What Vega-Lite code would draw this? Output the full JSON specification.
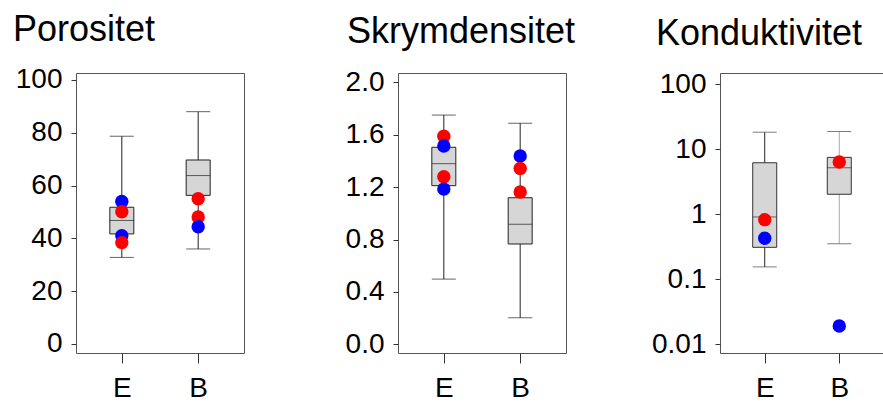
{
  "$schema": "https://vega.github.io/schema/vega-lite/v6.json",
  "padding": {"left": 12, "top": 11, "right": 0, "bottom": 0},
  "background": "white",
  "bounds": "flush",
  "spacing": 154,
  "config": {
    "font": "Liberation Sans",
    "view": {"stroke": "#555", "strokeWidth": 1},
    "title": {"fontSize": 36, "fontWeight": "normal", "font": "Liberation Sans", "color": "#000", "anchor": "start", "frame": "group", "offset": 17},
    "axis": {"labelFont": "Liberation Sans", "labelFontSize": 28, "labelColor": "#000", "tickColor": "#333", "domain": false, "grid": false, "title": null, "labelFlush": false, "labelOverlap": false},
    "axisX": {"tickSize": 10, "labelPadding": 11, "labelAngle": 0},
    "axisY": {"labelPadding": 9}
  },
  "datasets": {
    "box1": [
      {"g": "E", "lo": 32.8, "q1": 41.7, "med": 46.8, "q3": 51.8, "hi": 78.7},
      {"g": "B", "lo": 36.0, "q1": 56.3, "med": 63.8, "q3": 69.7, "hi": 88.0}
    ],
    "pts1": [
      {"g": "E", "v": 54.0, "c": "blue"},
      {"g": "E", "v": 50.1, "c": "red"},
      {"g": "E", "v": 41.0, "c": "blue"},
      {"g": "E", "v": 38.4, "c": "red"},
      {"g": "B", "v": 55.0, "c": "red"},
      {"g": "B", "v": 48.1, "c": "red"},
      {"g": "B", "v": 44.4, "c": "blue"}
    ],
    "box2": [
      {"g": "E", "lo": 0.498, "q1": 1.211, "med": 1.379, "q3": 1.504, "hi": 1.750},
      {"g": "B", "lo": 0.203, "q1": 0.766, "med": 0.916, "q3": 1.119, "hi": 1.687}
    ],
    "pts2": [
      {"g": "E", "v": 1.588, "c": "red"},
      {"g": "E", "v": 1.514, "c": "blue"},
      {"g": "E", "v": 1.279, "c": "red"},
      {"g": "E", "v": 1.185, "c": "blue"},
      {"g": "B", "v": 1.437, "c": "blue"},
      {"g": "B", "v": 1.343, "c": "red"},
      {"g": "B", "v": 1.163, "c": "red"}
    ],
    "box3": [
      {"g": "E", "lo": 0.155, "q1": 0.31, "med": 0.91, "q3": 6.2, "hi": 18.3},
      {"g": "B", "lo": 0.353, "q1": 2.03, "med": 5.2, "q3": 7.5, "hi": 18.7}
    ],
    "pts3": [
      {"g": "E", "v": 0.826, "c": "red"},
      {"g": "E", "v": 0.427, "c": "blue"},
      {"g": "B", "v": 6.38, "c": "red"},
      {"g": "B", "v": 0.0191, "c": "blue"}
    ]
  },
  "hconcat": [
    {
      "width": 168, "height": 280,
      "title": {"text": "Porositet", "dx": -63},
      "encoding": {
        "x": {"field": "g", "type": "nominal", "sort": ["E", "B"], "scale": {"type": "point", "padding": 0.6}}
      },
      "layer": [
        {"data": {"name": "box1"}, "mark": {"type": "rule", "color": "#222", "strokeWidth": 1},
         "encoding": {"y": {"field": "lo", "type": "quantitative", "scale": {"domain": [-3.41, 102.65], "nice": false, "zero": false},
           "axis": {"values": [0, 10, 20, 30, 40, 50, 60, 70, 80, 90, 100], "labelExpr": "datum.value % 20 === 0 ? datum.label : ''", "tickSize": {"condition": {"test": "datum.value % 20 === 0", "value": 5}, "value": 3}}},
           "y2": {"field": "hi"}}},
        {"data": {"name": "box1"}, "mark": {"type": "bar", "size": 24, "fill": "#d6d6d6", "stroke": "#222", "strokeWidth": 1},
         "encoding": {"y": {"field": "q1", "type": "quantitative"}, "y2": {"field": "q3"}}},
        {"data": {"name": "box1"}, "mark": {"type": "tick", "size": 24, "color": "#222", "thickness": 1},
         "encoding": {"y": {"field": "med", "type": "quantitative"}}},
        {"data": {"name": "box1"}, "mark": {"type": "tick", "size": 24, "color": "#222", "thickness": 1},
         "encoding": {"y": {"field": "lo", "type": "quantitative"}}},
        {"data": {"name": "box1"}, "mark": {"type": "tick", "size": 24, "color": "#222", "thickness": 1},
         "encoding": {"y": {"field": "hi", "type": "quantitative"}}},
        {"data": {"name": "pts1"}, "mark": {"type": "circle", "size": 180, "opacity": 1},
         "encoding": {"y": {"field": "v", "type": "quantitative"}, "color": {"field": "c", "type": "nominal", "scale": null}}}
      ]
    },
    {
      "width": 168, "height": 280,
      "title": {"text": "Skrymdensitet", "dx": -51},
      "encoding": {
        "x": {"field": "g", "type": "nominal", "sort": ["E", "B"], "scale": {"type": "point", "padding": 0.6}}
      },
      "layer": [
        {"data": {"name": "box2"}, "mark": {"type": "rule", "color": "#222", "strokeWidth": 1},
         "encoding": {"y": {"field": "lo", "type": "quantitative", "scale": {"domain": [-0.066, 2.071], "nice": false, "zero": false},
           "axis": {"values": [0, 0.2, 0.4, 0.6, 0.8, 1.0, 1.2, 1.4, 1.6, 1.8, 2.0], "format": ".1f", "labelExpr": "round(datum.value * 10) % 4 === 0 ? datum.label : ''", "tickSize": {"condition": {"test": "round(datum.value * 10) % 4 === 0", "value": 5}, "value": 3}}},
           "y2": {"field": "hi"}}},
        {"data": {"name": "box2"}, "mark": {"type": "bar", "size": 24, "fill": "#d6d6d6", "stroke": "#222", "strokeWidth": 1},
         "encoding": {"y": {"field": "q1", "type": "quantitative"}, "y2": {"field": "q3"}}},
        {"data": {"name": "box2"}, "mark": {"type": "tick", "size": 24, "color": "#222", "thickness": 1},
         "encoding": {"y": {"field": "med", "type": "quantitative"}}},
        {"data": {"name": "box2"}, "mark": {"type": "tick", "size": 24, "color": "#222", "thickness": 1},
         "encoding": {"y": {"field": "lo", "type": "quantitative"}}},
        {"data": {"name": "box2"}, "mark": {"type": "tick", "size": 24, "color": "#222", "thickness": 1},
         "encoding": {"y": {"field": "hi", "type": "quantitative"}}},
        {"data": {"name": "pts2"}, "mark": {"type": "circle", "size": 180, "opacity": 1},
         "encoding": {"y": {"field": "v", "type": "quantitative"}, "color": {"field": "c", "type": "nominal", "scale": null}}}
      ]
    },
    {
      "width": 164, "height": 280,
      "title": {"text": "Konduktivitet", "dx": -64},
      "encoding": {
        "x": {"field": "g", "type": "nominal", "sort": ["E", "B"], "scale": {"type": "point", "padding": 0.6}}
      },
      "layer": [
        {"data": {"name": "box3"}, "mark": {"type": "rule", "strokeWidth": 1},
         "encoding": {"y": {"field": "lo", "type": "quantitative", "scale": {"type": "log", "domain": [0.00734, 149], "nice": false},
           "axis": {"values": [0.01, 0.1, 1, 10, 100], "format": "~g", "tickSize": 5}},
           "y2": {"field": "hi"},
           "color": {"condition": {"test": "datum.g === 'B'", "value": "#aaaaaa"}, "value": "#222"}}},
        {"data": {"name": "box3"}, "mark": {"type": "bar", "size": 24, "fill": "#d6d6d6", "stroke": "#333", "strokeWidth": 1},
         "encoding": {"y": {"field": "q1", "type": "quantitative"}, "y2": {"field": "q3"}}},
        {"data": {"name": "box3"}, "mark": {"type": "tick", "size": 24, "color": "#333", "thickness": 1},
         "encoding": {"y": {"field": "med", "type": "quantitative"}}},
        {"data": {"name": "box3"}, "mark": {"type": "tick", "size": 24, "color": "#444", "thickness": 1},
         "encoding": {"y": {"field": "lo", "type": "quantitative"}}},
        {"data": {"name": "box3"}, "mark": {"type": "tick", "size": 24, "color": "#444", "thickness": 1},
         "encoding": {"y": {"field": "hi", "type": "quantitative"}}},
        {"data": {"name": "pts3"}, "mark": {"type": "circle", "size": 180, "opacity": 1},
         "encoding": {"y": {"field": "v", "type": "quantitative"}, "color": {"field": "c", "type": "nominal", "scale": null}}}
      ]
    }
  ]
}
